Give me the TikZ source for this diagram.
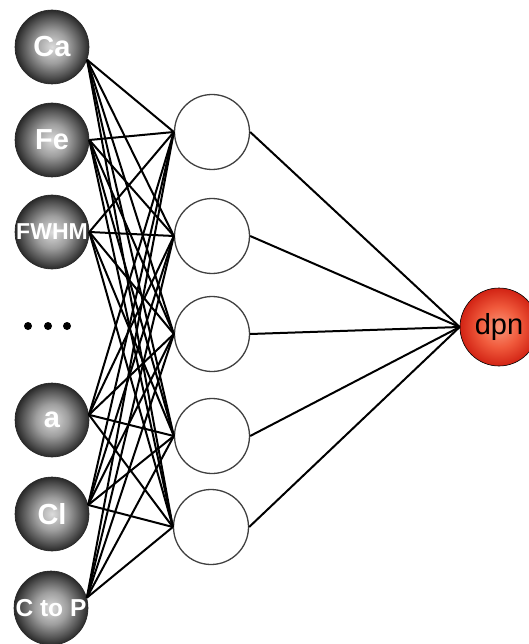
\documentclass[tikz,border=0pt]{standalone}
\usepackage{fontspec}
\setmainfont{Liberation Sans}

% ball shadings for the input and output neurons
\definecolor{ballA}{gray}{0.86}
\definecolor{ballB}{gray}{0.62}
\definecolor{ballC}{gray}{0.33}
\definecolor{ballD}{gray}{0.16}
\definecolor{redA}{RGB}{250,150,120}
\definecolor{redB}{RGB}{240,90,60}
\definecolor{redC}{RGB}{210,35,20}
\pgfdeclareradialshading{ballgray}{\pgfpoint{0bp}{0bp}}{%
  color(0bp)=(ballA); color(11bp)=(ballB); color(20bp)=(ballC);
  color(25bp)=(ballD); color(50bp)=(ballD)}
\pgfdeclareradialshading{ballred}{\pgfpoint{0bp}{0bp}}{%
  color(0bp)=(redA); color(13bp)=(redB); color(25bp)=(redC);
  color(50bp)=(redC)}

\tikzset{
  inball/.style={circle, minimum size=74pt, inner sep=0pt,
    draw=black!85, line width=0.6pt, shading=ballgray,
    text=white, font=\bfseries\fontsize{29}{29}\selectfont},
  hidball/.style={circle, minimum size=75pt, inner sep=0pt,
    draw=black!75, line width=1.3pt, fill=white},
  outball/.style={circle, minimum size=78pt, inner sep=0pt,
    draw=black, line width=0.6pt, shading=ballred,
    text=black, font=\fontsize{29}{29}\selectfont},
  link/.style={draw=black, line width=2pt},
  dotmark/.style={fill=black}
}

\begin{document}
\begin{tikzpicture}[x=1pt, y=-1pt]
  \useasboundingbox (0,0) rectangle (528,644);

  % input layer
  \node[inball] (in1) at (52,47)  {Ca};
  \node[inball, font=\bfseries\fontsize{23}{23}\selectfont] (in3) at (52,232) {FWHM};
  \node[inball] (in2) at (52,140) {Fe};
  \node[inball] (in4) at (52,420) {a};
  \node[inball] (in5) at (52,514) {Cl};
  \node[inball, font=\bfseries\fontsize{24.5}{24.5}\selectfont] (in6) at (51,608) {C to P};

  % ellipsis between the input neurons
  \fill[dotmark] (28,326) circle (4);
  \fill[dotmark] (48,326) circle (4);
  \fill[dotmark] (67,326) circle (4);

  % hidden layer
  \node[hidball] (h1) at (212,132) {};
  \node[hidball] (h2) at (212,236) {};
  \node[hidball] (h3) at (212,334) {};
  \node[hidball] (h4) at (212,436) {};
  \node[hidball] (h5) at (211,527) {};

  % output neuron
  \node[outball] (out) at (499,327) {dpn};

  % input -> hidden connections
  \foreach \src/\ang in {in1/-20, in2/0, in3/0, in4/8, in5/14, in6/16}
    \foreach \dst in {h1,h2,h3,h4,h5}
      \draw[link] (\src.\ang) -- (\dst.west);

  % hidden -> output connections
  \foreach \src in {h1,h2,h3,h4,h5}
    \draw[link] (\src.east) -- (out.west);
\end{tikzpicture}
\end{document}
